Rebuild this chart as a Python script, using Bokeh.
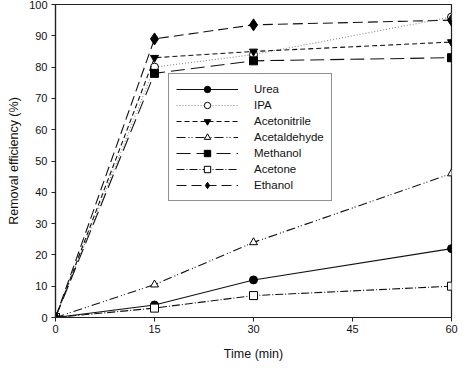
from bokeh.plotting import figure
from bokeh.models import Range1d, FixedTicker, Legend
from bokeh.embed import file_html
from bokeh.resources import INLINE

time_min = [0, 15, 30, 60]
urea = [0, 4, 12, 22]
ipa = [0, 80, 84, 96]
acetonitrile = [0, 83, 85, 88]
acetaldehyde = [0, 10.5, 24, 46]
methanol = [0, 78, 82, 83]
acetone = [0, 3, 7, 10]
ethanol = [0, 89, 93.5, 95]
x_ticks = [0, 15, 30, 45, 60]
y_ticks = [0, 10, 20, 30, 40, 50, 60, 70, 80, 90, 100]

FONT = "Liberation Sans"

p = figure(width=458, height=363, output_backend="svg", toolbar_location=None,
           x_range=Range1d(0, 60), y_range=Range1d(0, 100),
           min_border_left=55, min_border_right=7, min_border_top=4, min_border_bottom=40)
p.xgrid.visible = False
p.ygrid.visible = False
p.outline_line_color = "#222222"
p.outline_line_width = 1.2
p.background_fill_color = "white"
p.border_fill_color = "white"

p.xaxis.ticker = FixedTicker(ticks=x_ticks)
p.yaxis.ticker = FixedTicker(ticks=y_ticks)
for ax in (p.xaxis, p.yaxis):
    ax.axis_line_color = "#222222"
    ax.axis_line_width = 1.2
    ax.major_tick_line_color = "#222222"
    ax.major_tick_in = 0
    ax.major_tick_out = 4
    ax.minor_tick_line_color = None
    ax.major_label_text_font = FONT
    ax.major_label_text_font_size = "11px"
    ax.major_label_text_color = "#111111"
    ax.axis_label_text_font = FONT
    ax.axis_label_text_font_size = "12.5px"
    ax.axis_label_text_font_style = "normal"
    ax.axis_label_text_color = "#111111"
p.xaxis.axis_label = "Time (min)"
p.yaxis.axis_label = "Removal efficiency (%)"
p.xaxis.major_label_standoff = 3
p.yaxis.major_label_standoff = 4
p.xaxis.axis_label_standoff = 11
p.yaxis.axis_label_standoff = 5

series = [
    ("Urea", urea, "solid", "#111111", "circle", "black"),
    ("IPA", ipa, "1 2", "#888888", "circle", "white"),
    ("Acetonitrile", acetonitrile, "5 3", "#111111", "inverted_triangle", "black"),
    ("Acetaldehyde", acetaldehyde, "9 3 1 2 1 3", "#111111", "triangle", "white"),
    ("Methanol", methanol, "14 6", "#111111", "square", "black"),
    ("Acetone", acetone, "8 2 1 2", "#111111", "square", "white"),
    ("Ethanol", ethanol, "10 5", "#111111", "diamond", "black"),
]

items = []
for name, ys, dash, lcol, marker, fill in series:
    r1 = p.line(time_min, ys, line_color=lcol, line_width=1.1, line_dash=dash)
    sz = 12 if marker == "diamond" else 8
    r2 = p.scatter(time_min, ys, marker=marker, size=sz, fill_color=fill,
                   line_color="black", line_width=1)
    items.append((name, [r1, r2]))

legend = Legend(items=items, location=(113, 116))
legend.border_line_color = "#222222"
legend.border_line_width = 1.2
legend.background_fill_alpha = 1
legend.label_text_font = FONT
legend.label_text_font_size = "11.5px"
legend.label_text_color = "#111111"
legend.glyph_width = 62
legend.glyph_height = 16
legend.label_height = 16
legend.spacing = 0
legend.padding = 7
legend.margin = 0
legend.label_standoff = 16
p.add_layout(legend, "center")

open("out.html", "w").write(file_html(p, INLINE))
